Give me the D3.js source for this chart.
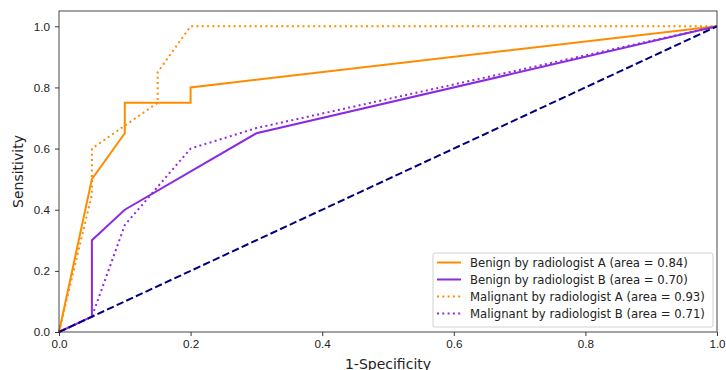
<!DOCTYPE html>
<html>
<head>
<meta charset="utf-8">
<script src="https://cdn.jsdelivr.net/npm/d3@7"></script>
<style>
  body { margin: 0; background: #fff; }
  svg { font-family: "DejaVu Sans", sans-serif; }
</style>
</head>
<body>
<div id="chart"></div>
<script>
// ROC points: [1-specificity, sensitivity]
var benignA = [[0, 0], [0.05, 0.5], [0.1, 0.65], [0.1, 0.75], [0.2, 0.75], [0.2, 0.8], [1, 1]];
var benignB = [[0, 0], [0.05, 0.05], [0.05, 0.3], [0.1, 0.4], [0.3, 0.65], [1, 1]];
var malignantA = [[0, 0], [0.05, 0.45], [0.05, 0.6], [0.1, 0.675], [0.15, 0.75], [0.15, 0.85], [0.2, 1], [1, 1]];
var malignantB = [[0, 0], [0.05, 0.05], [0.1, 0.35], [0.2, 0.6], [0.3, 0.667], [1, 1]];
var chance = [[0, 0], [1, 1]];

var seriesNames = [
  "Benign by radiologist A (area = 0.84)",
  "Benign by radiologist B (area = 0.70)",
  "Malignant by radiologist A (area = 0.93)",
  "Malignant by radiologist B (area = 0.71)"
];
var xTicks = [0, 0.2, 0.4, 0.6, 0.8, 1.0];
var yTicks = [0, 0.2, 0.4, 0.6, 0.8, 1.0];

var margin = { top: 11, right: 9, bottom: 38, left: 59 },
    width = 726 - margin.left - margin.right,
    height = 370 - margin.top - margin.bottom;

var svg = d3.select("#chart")
  .append("svg")
    .attr("width", 726)
    .attr("height", 370)
  .append("g")
    .attr("transform", "translate(" + margin.left + "," + margin.top + ")");

var x = d3.scaleLinear().domain([0, 1]).range([0, width]);
var y = d3.scaleLinear().domain([0, 1.05]).range([height, 0]);

var line = d3.line()
  .x(function(d) { return x(d[0]); })
  .y(function(d) { return y(d[1]); });

var curves = [
  { data: benignA, color: "#ff8c00", dash: null },
  { data: benignB, color: "#8a2be2", dash: null },
  { data: malignantA, color: "#ff8c00", dash: "2,3.3" },
  { data: malignantB, color: "#8a2be2", dash: "2,3.3" }
];

// axes
var xAxis = svg.append("g")
  .attr("transform", "translate(0," + height + ")")
  .call(d3.axisBottom(x).tickValues(xTicks).tickFormat(d3.format(".1f")).tickSizeOuter(0).tickSize(4).tickPadding(4));
var yAxis = svg.append("g")
  .call(d3.axisLeft(y).tickValues(yTicks).tickFormat(d3.format(".1f")).tickSizeOuter(0).tickSize(4).tickPadding(5));

[xAxis, yAxis].forEach(function(a) {
  a.select(".domain").remove();
  a.selectAll("line").attr("stroke", "#222").attr("stroke-width", 0.9);
  a.selectAll("text").attr("fill", "#222").style("font-size", "11.7px");
});

// clip
svg.append("defs").append("clipPath")
    .attr("id", "clip")
  .append("rect")
    .attr("x", -2).attr("y", 0)
    .attr("width", width + 2).attr("height", height + 2);

var plot = svg.append("g").attr("clip-path", "url(#clip)");

curves.forEach(function(c) {
  plot.append("path")
    .datum(c.data)
    .attr("d", line)
    .attr("fill", "none")
    .attr("stroke", c.color)
    .attr("stroke-width", 2)
    .attr("stroke-dasharray", c.dash);
});

plot.append("path")
  .datum(chance)
  .attr("d", line)
  .attr("fill", "none")
  .attr("stroke", "#000080")
  .attr("stroke-width", 2)
  .attr("stroke-dasharray", "7.4,3.2");

// frame
svg.append("rect")
  .attr("width", width).attr("height", height)
  .attr("fill", "none")
  .attr("stroke", "#333")
  .attr("stroke-width", 0.9);

// labels
svg.append("text")
  .attr("x", width / 2)
  .attr("y", height + 36.5)
  .attr("text-anchor", "middle")
  .attr("fill", "#222")
  .style("font-size", "14px")
  .text("1-Specificity");

svg.append("text")
  .attr("transform", "translate(" + (23 - margin.left) + "," + (height / 2) + ")rotate(-90)")
  .attr("text-anchor", "middle")
  .attr("fill", "#222")
  .style("font-size", "14px")
  .text("Sensitivity");

// legend
var lg = svg.append("g")
  .attr("transform", "translate(" + (433 - margin.left) + "," + (253 - margin.top) + ")");

lg.append("rect")
  .attr("width", 280).attr("height", 74)
  .attr("rx", 2)
  .attr("fill", "#fff")
  .attr("fill-opacity", 0.8)
  .attr("stroke", "#ccc")
  .attr("stroke-width", 0.9);

var rows = lg.selectAll("g.row")
  .data(curves)
  .enter().append("g")
    .attr("class", "row")
    .attr("transform", function(d, i) { return "translate(0," + (9.5 + i * 17) + ")"; });

rows.append("line")
  .attr("x1", 4).attr("x2", 28)
  .attr("stroke", function(d) { return d.color; })
  .attr("stroke-width", 2)
  .attr("stroke-dasharray", function(d) { return d.dash; });

rows.append("text")
  .attr("x", 37)
  .attr("dy", "0.35em")
  .attr("fill", "#222")
  .style("font-size", "11.7px")
  .text(function(d, i) { return seriesNames[i]; });
</script>
</body>
</html>
